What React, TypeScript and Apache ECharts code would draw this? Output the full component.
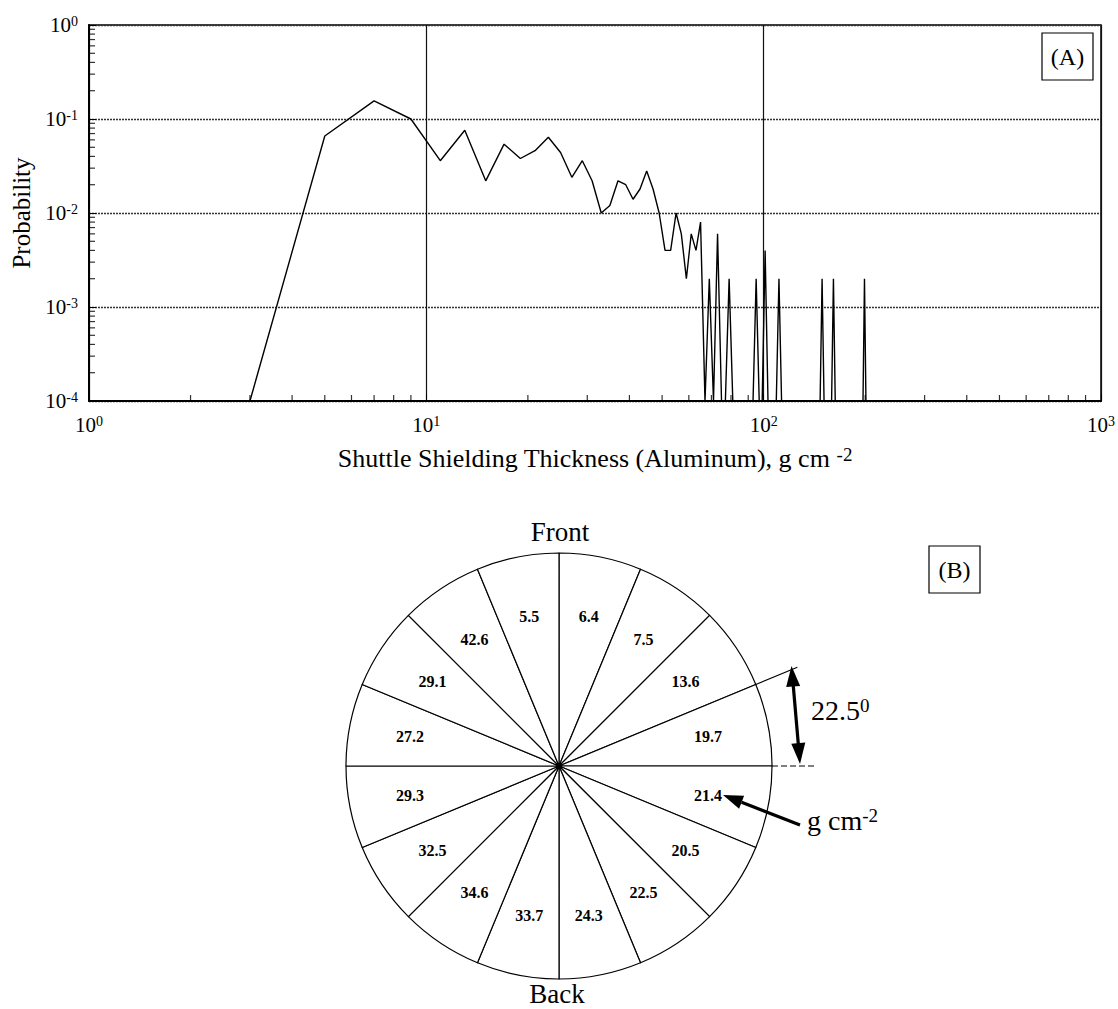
import React, { useEffect, useRef } from "react";
import * as echarts from "echarts";

const FONT = "'Liberation Serif', 'Times New Roman', serif";

// Panel A — probability of shielding thickness (zero-probability bins drawn at the axis floor)
const FLOOR = 1e-4;
const thickness = [
  1, 3, 5, 7, 9, 11, 13, 15, 17, 19, 21, 23, 25, 27, 29, 31, 33, 35, 37, 39, 41, 43, 45, 47, 49,
  51, 53, 55, 57, 59, 61, 63, 65, 67, 69, 71, 73, 75, 77, 79, 81, 93, 95, 97, 99, 101, 103, 109,
  111, 113, 147, 149, 151, 159, 161, 163, 197, 199, 201,
];
const probability = [
  FLOOR, FLOOR, 0.066, 0.156, 0.1, 0.036, 0.076, 0.022, 0.054, 0.038, 0.046, 0.064, 0.044, 0.024,
  0.036, 0.022, 0.01, 0.012, 0.022, 0.02, 0.014, 0.018, 0.028, 0.018, 0.01,
  0.004, 0.004, 0.01, 0.006, 0.002, 0.006, 0.004, 0.008, FLOOR, 0.002, FLOOR, 0.006, FLOOR, FLOOR,
  0.002, FLOOR, FLOOR, 0.002, FLOOR, FLOOR, 0.004, FLOOR, FLOOR,
  0.002, FLOOR, FLOOR, 0.002, FLOOR, FLOOR, 0.002, FLOOR, FLOOR, 0.002, FLOOR,
];

// minor tick positions on the log axes
const minorMultipliers = [2, 3, 4, 5, 6, 7, 8, 9];
const xDecades = [1, 10, 100];
const yDecades = [1e-4, 1e-3, 1e-2, 1e-1];

// Panel B — 16 sectors of 22.5°, clockwise from Front
const sectorThickness = [
  "6.4", "7.5", "13.6", "19.7", "21.4", "20.5", "22.5", "24.3",
  "33.7", "34.6", "32.5", "29.3", "27.2", "29.1", "42.6", "5.5",
];
const sectorSpan = [
  22.5, 22.5, 22.5, 22.5, 22.5, 22.5, 22.5, 22.5,
  22.5, 22.5, 22.5, 22.5, 22.5, 22.5, 22.5, 22.5,
];

const supLabel = (v: number) => {
  const e = Math.round(Math.log10(v));
  return `{b|10}{s|${e}}`;
};

const axisRich = {
  b: { fontSize: 21, fontFamily: FONT, color: "#000", lineHeight: 21 },
  s: { fontSize: 14, fontFamily: FONT, color: "#000", lineHeight: 14, verticalAlign: "top" },
};

const supRich = (big: number, small: number) => ({
  b: { fontSize: big, fontFamily: FONT, fill: "#000", lineHeight: big },
  s: { fontSize: small, fontFamily: FONT, fill: "#000", lineHeight: small, verticalAlign: "top" },
});

export default function App() {
  const ref = useRef<HTMLDivElement>(null);
  useEffect(() => {
    const chart = echarts.init(ref.current!, null, { renderer: "svg" });

    const lineData = thickness.map((t, i) => [t, probability[i]]);
    const xMinor: number[][] = [];
    xDecades.forEach((d) => minorMultipliers.forEach((m) => xMinor.push([d * m, 1e-4])));
    const yMinor: number[][] = [];
    yDecades.forEach((d) => minorMultipliers.forEach((m) => yMinor.push([1, d * m])));

    const cx = 559;
    const cy = 766;
    const R = 213;
    const ang = (22.5 * Math.PI) / 180;
    const extLen = 258;

    const option: any = {
      animation: false,
      backgroundColor: "#fff",
      textStyle: { fontFamily: FONT },
      grid: {
        left: 89,
        right: 17,
        top: 25,
        bottom: 608,
        show: true,
        borderColor: "#000",
        borderWidth: 1.5,
      },
      xAxis: {
        type: "log",
        logBase: 10,
        min: 1,
        max: 1000,
        axisLine: { lineStyle: { color: "#000", width: 2 } },
        axisTick: { inside: true, length: 7, lineStyle: { color: "#000", width: 1 } },
        axisLabel: { margin: 13, fontSize: 21, fontFamily: FONT, color: "#000", formatter: supLabel, rich: axisRich },
        splitLine: { show: true, lineStyle: { color: "#111", width: 1.2, type: "solid" } },
      },
      yAxis: {
        type: "log",
        logBase: 10,
        min: 1e-4,
        max: 1,
        name: "Probability",
        nameLocation: "middle",
        nameGap: 54,
        nameTextStyle: { fontSize: 25, fontFamily: FONT, color: "#000" },
        axisLine: { lineStyle: { color: "#000", width: 2 } },
        axisTick: { inside: true, length: 7, lineStyle: { color: "#000", width: 1 } },
        axisLabel: { margin: 11, fontSize: 21, fontFamily: FONT, color: "#000", formatter: supLabel, rich: axisRich },
        splitLine: { show: true, lineStyle: { color: "#333", width: 1.4, type: [2, 1] } },
      },
      series: [
        {
          type: "line",
          data: lineData,
          symbol: "none",
          lineStyle: { color: "#000", width: 1.4 },
          silent: true,
          z: 5,
        },
        {
          type: "scatter",
          data: xMinor,
          symbol: "rect",
          symbolSize: [1.2, 6],
          symbolOffset: [0, -3],
          itemStyle: { color: "#000" },
          clip: false,
          silent: true,
        },
        {
          type: "scatter",
          data: yMinor,
          symbol: "rect",
          symbolSize: [6, 1.2],
          symbolOffset: [3, 0],
          itemStyle: { color: "#000" },
          clip: false,
          silent: true,
        },
        {
          type: "pie",
          center: [cx, cy],
          radius: [0, R],
          startAngle: 90,
          clockwise: true,
          silent: true,
          data: sectorThickness.map((n, i) => ({ name: n, value: sectorSpan[i] })),
          label: { show: false },
          labelLine: { show: false },
          itemStyle: { color: "#fff", borderColor: "#000", borderWidth: 1.2 },
          emphasis: { disabled: true },
        },
        {
          type: "pie",
          center: [cx, cy],
          radius: [125, 173],
          startAngle: 90,
          clockwise: true,
          silent: true,
          data: sectorThickness.map((n, i) => ({ name: n, value: sectorSpan[i] })),
          label: {
            show: true,
            position: "inside",
            formatter: "{b}",
            fontSize: 16,
            fontWeight: "bold",
            fontFamily: FONT,
            color: "#000",
          },
          labelLine: { show: false },
          itemStyle: { color: "rgba(0,0,0,0)", borderWidth: 0 },
          emphasis: { disabled: true },
        },
      ],
      graphic: [
        // x-axis title
        {
          type: "text", z: 101, x: 595, y: 458,
          style: {
            text: "{b|Shuttle Shielding Thickness (Aluminum), g cm }{s|-2}",
            fill: "#000", fontFamily: FONT, fontSize: 26, align: "center", verticalAlign: "middle",
            rich: supRich(26, 19),
          },
        },
        // (A) label box
        { type: "rect", z: 100, shape: { x: 1042, y: 33, width: 51, height: 47 }, style: { fill: "#fff", stroke: "#000", lineWidth: 1.2 } },
        { type: "text", z: 101, x: 1067.5, y: 57, style: { text: "(A)", fontSize: 24, fontFamily: FONT, fill: "#000", align: "center", verticalAlign: "middle" } },
        // (B) label box
        { type: "rect", z: 100, shape: { x: 929, y: 546, width: 51, height: 47 }, style: { fill: "#fff", stroke: "#000", lineWidth: 1.2 } },
        { type: "text", z: 101, x: 954.5, y: 570, style: { text: "(B)", fontSize: 24, fontFamily: FONT, fill: "#000", align: "center", verticalAlign: "middle" } },
        // Front / Back
        { type: "text", z: 101, x: 560, y: 532, style: { text: "Front", fontSize: 27, fontFamily: FONT, fill: "#000", align: "center", verticalAlign: "middle" } },
        { type: "text", z: 101, x: 557, y: 994, style: { text: "Back", fontSize: 27, fontFamily: FONT, fill: "#000", align: "center", verticalAlign: "middle" } },
        // center dot
        { type: "circle", z: 101, shape: { cx, cy, r: 3 }, style: { fill: "#000" } },
        // extension of the 22.5° boundary
        { type: "line", z: 101, shape: { x1: cx + R * Math.cos(ang), y1: cy - R * Math.sin(ang), x2: cx + extLen * Math.cos(ang), y2: cy - extLen * Math.sin(ang) }, style: { stroke: "#000", lineWidth: 1.1 } },
        // horizontal extension (dashed)
        { type: "line", z: 101, shape: { x1: cx + R, y1: cy, x2: 814, y2: cy }, style: { stroke: "#000", lineWidth: 1.1, lineDash: [6, 3] } },
        // double arrow
        { type: "line", z: 101, shape: { x1: 793.2, y1: 685, x2: 798.3, y2: 744 }, style: { stroke: "#000", lineWidth: 3.2 } },
        { type: "polygon", z: 101, shape: { points: [[791.5, 666], [800.2, 686], [786.2, 687]] }, style: { fill: "#000" } },
        { type: "polygon", z: 101, shape: { points: [[800, 764], [805.3, 742.5], [791.3, 743.7]] }, style: { fill: "#000" } },
        {
          type: "text", z: 101, x: 811, y: 710,
          style: {
            text: "{b|22.5}{s|0}", fill: "#000", fontFamily: FONT, fontSize: 28, verticalAlign: "middle",
            rich: supRich(28, 19),
          },
        },
        // arrow to 21.4
        { type: "line", z: 101, shape: { x1: 800, y1: 825, x2: 741.6, y2: 802.3 }, style: { stroke: "#000", lineWidth: 3.2 } },
        { type: "polygon", z: 101, shape: { points: [[723, 795], [744.1, 795.8], [739.1, 808.8]] }, style: { fill: "#000" } },
        {
          type: "text", z: 101, x: 807, y: 820,
          style: {
            text: "{b|g cm}{s|-2}", fill: "#000", fontFamily: FONT, fontSize: 28, verticalAlign: "middle",
            rich: supRich(28, 19),
          },
        },
      ],
    };

    chart.setOption(option);
    return () => chart.dispose();
  }, []);

  return (
    <div
      ref={ref}
      style={{ position: "fixed", left: 0, top: 0, width: 1118, height: 1009, background: "#fff" }}
    />
  );
}
